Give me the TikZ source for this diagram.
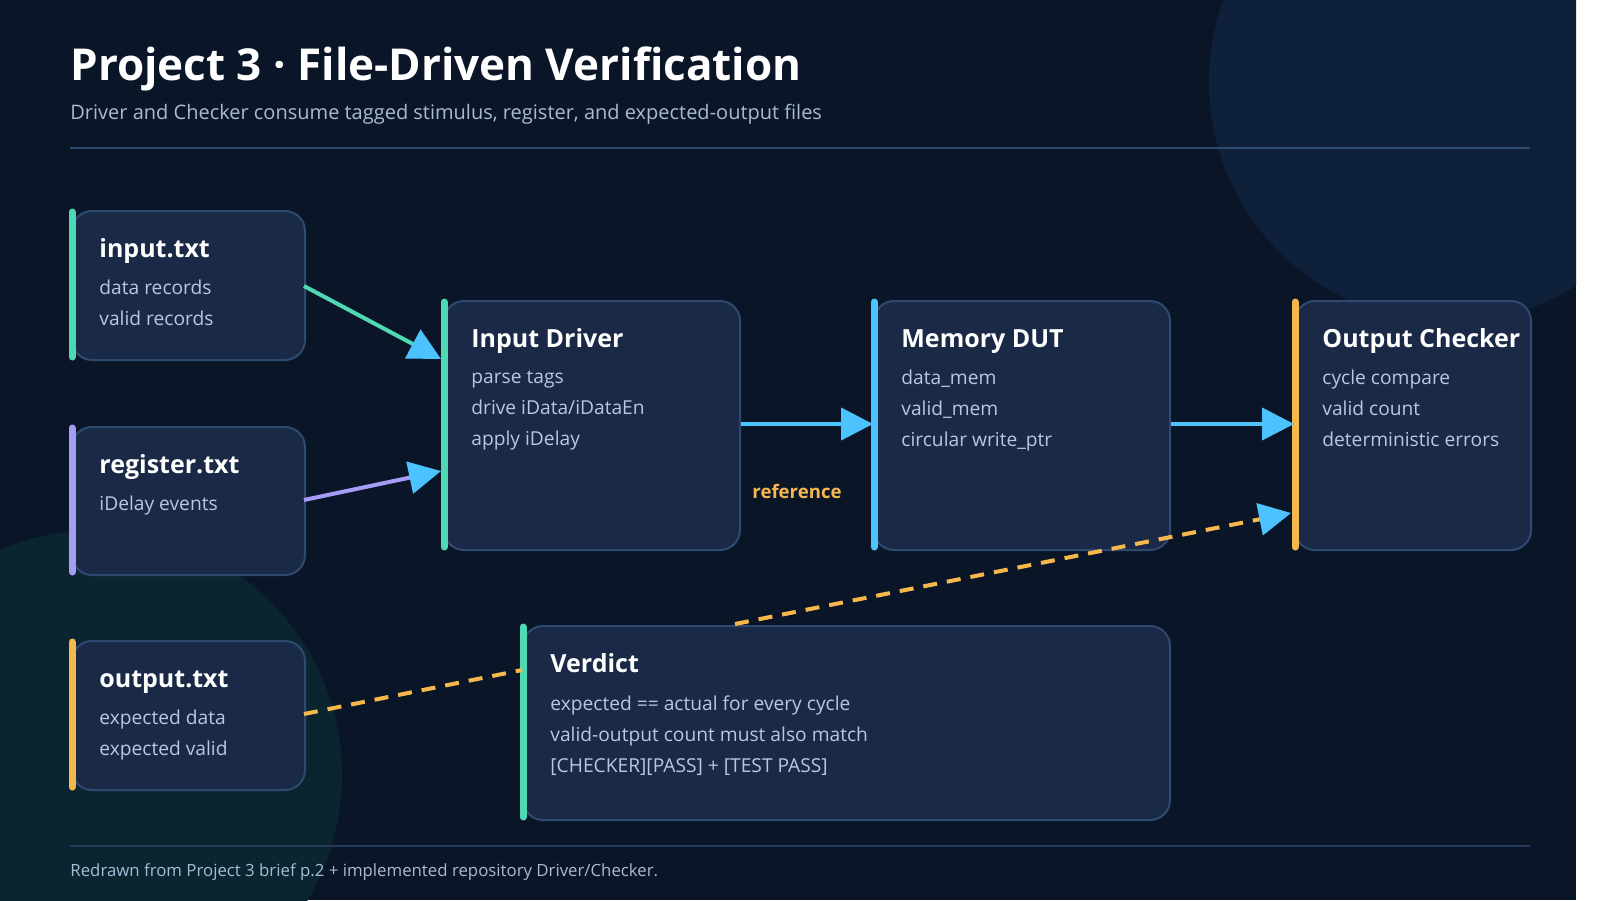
\documentclass[tikz,border=0pt]{standalone}
\usepackage{fontspec}
\setmainfont{Open Sans}[BoldFont={Open Sans Bold}]
\usetikzlibrary{arrows.meta,calc}
\definecolor{bg}{HTML}{0A1628}
\definecolor{circA}{HTML}{0F203B}
\definecolor{circB}{HTML}{0B2530}
\definecolor{boxf}{HTML}{1A2945}
\definecolor{boxd}{HTML}{2F4A70}
\definecolor{teal}{HTML}{4FD8B4}
\definecolor{purp}{HTML}{A59CF5}
\definecolor{blu}{HTML}{4CC3FF}
\definecolor{org}{HTML}{F6B84C}
\definecolor{bodyc}{HTML}{B9C8DE}
\definecolor{subc}{HTML}{A9BAD3}
\tikzset{
  box/.style={draw=boxd, line width=1pt, fill=boxf, rounded corners=10pt, inner sep=0pt},
  ttl/.style={anchor=base west, text=white, font=\fontsize{12.5}{15}\selectfont\bfseries, inner sep=0pt},
  bdy/.style={anchor=base west, text=bodyc, font=\fontsize{9.6}{15.5}\selectfont, align=left, inner sep=0pt},
  arr/.style={line width=2pt, -{Triangle[length=16pt,width=16pt]}},
}
\newcommand{\mybox}[8]{% name x1 y1 x2 y2 color title body
  \node[box, minimum width={(#4-#2)*0.5pt}, minimum height={(#5-#3)*0.5pt}, anchor=north west] (#1) at (#2,#3) {};
  \draw[#6, line width=3.5pt, line cap=round] (#2+1,#3+2) -- (#2+1,#5-2);
  \node[ttl] (#1-t) at (#2+28,#3+47) {#7};
  \node[bdy, anchor=north west] (#1-b) at (#2+28,#3+70) {#8};
}
\begin{document}
\begin{tikzpicture}[x=0.5pt,y=-0.5pt]
\useasboundingbox (0,0) rectangle (1600,900);
\fill[white] (0,0) rectangle (1600,900);
\fill[bg] (0,0) rectangle (1576,900);
\begin{scope}
\clip (0,0) rectangle (1576,900);
\fill[circA] (1449,82) circle (240);
\fill[circB] (97,775) circle (245);
\end{scope}
\node[anchor=base west, text=white, font=\fontsize{22}{26}\selectfont\bfseries, inner sep=0pt] (title) at (70,80) {Project 3 · File-Driven Verification};
\node[anchor=base west, text=subc, font=\fontsize{10}{12}\selectfont, inner sep=0pt] (sub) at (70,119) {Driver and Checker consume tagged stimulus, register, and expected-output files};
\draw[boxd, line width=1pt] (70,148) -- (1530,148);
\draw[boxd!70!bg, line width=1pt] (70,846) -- (1530,846);
\node[anchor=base west, text=subc, font=\fontsize{8.4}{10}\selectfont, inner sep=0pt] (foot) at (70,876) {Redrawn from Project 3 brief p.2 + implemented repository Driver/Checker.};

\mybox{inf}{71}{210}{304}{359}{teal}{input.txt}{data records\\valid records}
\mybox{reg}{71}{426}{304}{574}{purp}{register.txt}{iDelay events}
\mybox{outf}{71}{640}{304}{789}{org}{output.txt}{expected data\\expected valid}
\mybox{drv}{443}{300}{739}{549}{teal}{Input Driver}{parse tags\\drive iData/iDataEn\\apply iDelay}
\mybox{dut}{873}{300}{1169}{549}{blu}{Memory DUT}{data\_mem\\valid\_mem\\circular write\_ptr}
\mybox{chk}{1294}{300}{1530}{549}{org}{Output Checker}{cycle compare\\valid count\\deterministic errors}
\mybox{ver}{522}{625}{1169}{819}{teal}{Verdict}{expected == actual for every cycle\\valid-output count must also match\\{[}CHECKER{]}{[}PASS{]} + {[}TEST PASS{]}}

\coordinate (a1) at (304,286);
\coordinate (a2) at (441,359);
\coordinate (b1) at (304,500);
\coordinate (b2) at (441,471);
\coordinate (c1) at (304,714);
\coordinate (c2) at (522,670);
\coordinate (d1) at (735,624);
\coordinate (d2) at (1291,513);
\draw[arr, draw=teal, -{Triangle[length=16pt,width=16pt,fill=blu,color=blu]}] (a1) -- (a2);
\draw[arr, draw=purp, -{Triangle[length=16pt,width=16pt,fill=blu,color=blu]}] (b1) -- (b2);
\draw[arr, draw=blu, fill=blu] (drv.east |- 0,424) -- (dut.west |- 0,424);
\draw[arr, draw=blu, fill=blu] (dut.east |- 0,424) -- (chk.west |- 0,424);
\draw[org, line width=2pt, dash pattern=on 7pt off 5pt] (c1) -- (c2);
\draw[org, line width=2pt, dash pattern=on 7pt off 5pt, -{Triangle[length=16pt,width=16pt,fill=blu,color=blu]}] (d1) -- (d2);
\node[text=org, font=\fontsize{9.3}{11}\selectfont\bfseries, inner sep=0pt] (ref) at (797,491) {reference};
\end{tikzpicture}
\end{document}
